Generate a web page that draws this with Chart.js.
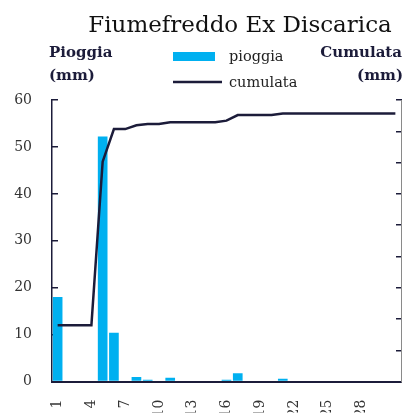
<!DOCTYPE html>
<html>
<head>
<meta charset="utf-8">
<script src="https://cdn.jsdelivr.net/npm/chart.js@4/dist/chart.umd.min.js"></script>
<style>
  body { margin: 0; background: #fff; }
  canvas { display: block; }
</style>
</head>
<body>
<canvas id="myChart" width="403" height="416"></canvas>
<script>
// Daily data (day of month)
const days = ['1', '2', '3', '4', '5', '6', '7', '8', '9', '10', '11', '12', '13', '14', '15', '16',
    '17', '18', '19', '20', '21', '22', '23', '24', '25', '26', '27', '28', '29', '30', '31'];
const pioggia = [18.0, 0, 0, 0, 52.2, 10.4, 0, 1.0, 0.4, 0, 0.8, 0, 0, 0, 0, 0.4,
    1.8, 0, 0, 0, 0.6, 0, 0, 0, 0, 0, 0, 0, 0, 0, 0];
const cumulata = [18, 18, 18, 18, 70.3, 80.7, 80.7, 81.9, 82.3, 82.3, 82.9, 82.9, 82.9, 82.9, 82.9, 83.4,
    85.2, 85.2, 85.2, 85.2, 85.7, 85.7, 85.7, 85.7, 85.7, 85.7, 85.7, 85.7, 85.7, 85.7, 85.7];
const shownDays = ['1', '4', '7', '10', '13', '16', '19', '22', '25', '28'];
const chartTitle = 'Fiumefreddo Ex Discarica';

const navy = '#1c1c3a';
const barColor = '#00b0f0';
const serif = "'DejaVu Serif', serif";

Chart.defaults.font.family = serif;

// Title, axis titles and legend drawn on top
const overlay = {
    id: 'overlay',
    afterDraw(chart) {
        const c = chart.ctx;
        c.save();
        c.textBaseline = 'alphabetic';

        c.fillStyle = '#111';
        c.font = '23px ' + serif;
        c.textAlign = 'center';
        c.fillText(chartTitle, 240, 32);

        c.fillStyle = navy;
        c.font = 'bold 15px ' + serif;
        c.textAlign = 'left';
        c.fillText('Pioggia', 49, 57);
        c.fillText('(mm)', 49, 80);
        c.textAlign = 'right';
        c.fillText('Cumulata', 402, 57);
        c.fillText('(mm)', 403, 80);

        // legend
        const ds = chart.data.datasets;
        c.fillStyle = ds[0].backgroundColor;
        c.fillRect(173, 52, 42, 9);
        c.strokeStyle = ds[1].borderColor;
        c.lineWidth = 2.5;
        c.beginPath();
        c.moveTo(173, 82);
        c.lineTo(222, 82);
        c.stroke();
        c.fillStyle = '#222';
        c.font = '14.5px ' + serif;
        c.textAlign = 'left';
        c.fillText(ds[0].label, 229, 61);
        c.fillText(ds[1].label, 229, 87);
        c.restore();
    }
};

let ctx = document.getElementById('myChart').getContext('2d');
let myChart = new Chart(ctx, {
    type: 'bar',
    data: {
        labels: days,
        datasets: [
            {
                type: 'bar',
                label: 'pioggia',
                data: pioggia,
                backgroundColor: barColor,
                barPercentage: 0.86,
                categoryPercentage: 1,
                yAxisID: 'y',
                order: 2
            },
            {
                type: 'line',
                label: 'cumulata',
                data: cumulata,
                borderColor: navy,
                borderWidth: 2.5,
                pointRadius: 0,
                tension: 0,
                fill: false,
                yAxisID: 'y1',
                order: 1
            }
        ]
    },
    options: {
        responsive: false,
        animation: false,
        layout: { padding: { top: 100, left: 0, right: 0, bottom: 0 } },
        plugins: {
            legend: { display: false },
            tooltip: { enabled: false }
        },
        scales: {
            x: {
                grid: { display: false },
                border: { display: true, color: navy, width: 2 },
                ticks: {
                    autoSkip: false,
                    minRotation: 90,
                    maxRotation: 90,
                    padding: 10,
                    color: '#333',
                    font: { size: 14 },
                    callback: function(value, index) {
                        return shownDays.includes(days[index]) ? days[index] : '';
                    }
                },
                afterFit: function(scale) {
                    scale.height = 31;
                    scale.paddingLeft = 0;
                    scale.paddingRight = 0;
                }
            },
            y: {
                position: 'left',
                min: 0,
                max: 60,
                ticks: {
                    stepSize: 10,
                    padding: 26,
                    color: '#333',
                    font: { size: 14 }
                },
                grid: {
                    drawOnChartArea: false,
                    drawTicks: true,
                    tickLength: -6,
                    color: navy,
                    lineWidth: 1.5
                },
                border: { display: true, color: navy, width: 1.5 },
                afterFit: function(scale) { scale.width = 52; }
            },
            y1: {
                position: 'right',
                min: 0,
                max: 90,
                ticks: { stepSize: 10, display: false },
                grid: {
                    drawOnChartArea: false,
                    drawTicks: true,
                    tickLength: -5,
                    color: navy,
                    lineWidth: 1.5
                },
                border: { display: true, color: '#8a8a8a', width: 1 },
                afterFit: function(scale) { scale.width = 2; }
            }
        }
    },
    plugins: [overlay]
});
</script>
</body>
</html>
